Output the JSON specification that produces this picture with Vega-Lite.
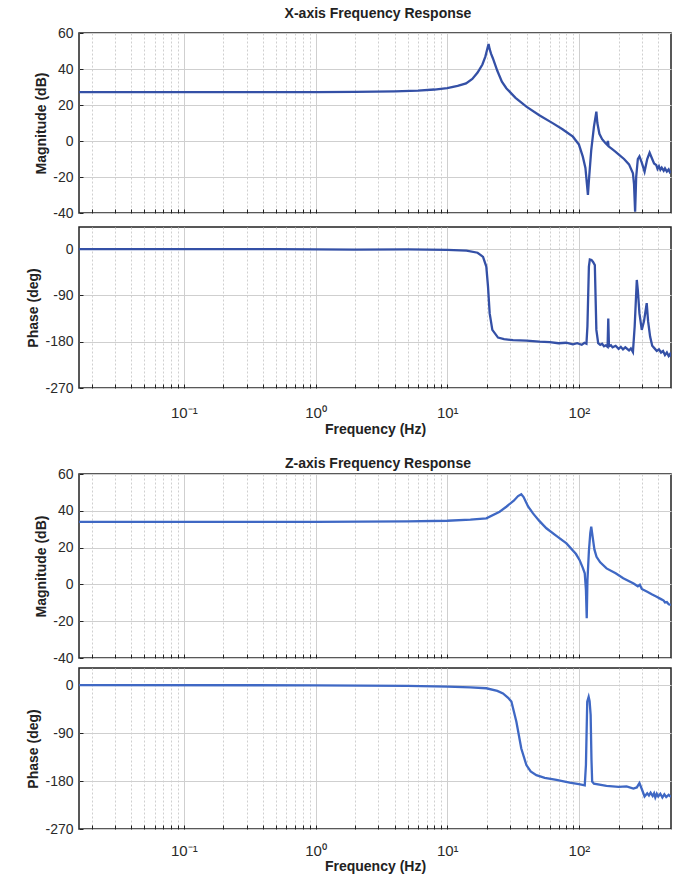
{
  "$schema": "https://vega.github.io/schema/vega-lite/v6.json",
  "padding": {"left": 26, "top": 7, "right": 1, "bottom": 0},
  "background": "white",
  "config": {
    "font": "Liberation Sans",
    "view": {"stroke": "#222222", "strokeWidth": 1.5},
    "axis": {
      "labelFont": "Liberation Sans",
      "labelFontSize": 14,
      "labelColor": "#2a2a2a",
      "titleFont": "Liberation Sans",
      "titleFontSize": 14,
      "titleFontWeight": "bold",
      "titleColor": "#222222",
      "domain": false,
      "gridColor": "#cfcfcf",
      "gridWidth": 1,
      "tickColor": "#222222",
      "tickSize": -4,
      "labelPadding": 10
    },
    "title": {"font": "Liberation Sans", "fontSize": 14, "fontWeight": "bold", "color": "#222222", "anchor": "middle", "offset": 4, "dx": 29},
    "concat": {"spacing": 20}
  },
  "datasets": {
    "xmag": [
      {"f": 0.016, "v": 27.2}, {"f": 0.05, "v": 27.2}, {"f": 0.2, "v": 27.1}, {"f": 0.5, "v": 27.2}, {"f": 1, "v": 27.1},
      {"f": 2, "v": 27.3}, {"f": 4, "v": 27.6}, {"f": 6, "v": 28.0}, {"f": 8, "v": 28.6}, {"f": 10, "v": 29.4},
      {"f": 12, "v": 30.6}, {"f": 13.9, "v": 32.0}, {"f": 15.5, "v": 34.5}, {"f": 17, "v": 38.0}, {"f": 18.5, "v": 42.5},
      {"f": 19.5, "v": 47}, {"f": 20.2, "v": 51.5}, {"f": 20.6, "v": 53.9}, {"f": 21, "v": 51}, {"f": 21.5, "v": 48.5},
      {"f": 22.2, "v": 46}, {"f": 24, "v": 39}, {"f": 26, "v": 33}, {"f": 28.1, "v": 29.3}, {"f": 33, "v": 24},
      {"f": 39.9, "v": 19.1}, {"f": 50, "v": 14.3}, {"f": 63.6, "v": 9.8}, {"f": 75, "v": 6.5}, {"f": 90, "v": 2.4},
      {"f": 100, "v": -2}, {"f": 107, "v": -8.7}, {"f": 112, "v": -15}, {"f": 115, "v": -24}, {"f": 117, "v": -30},
      {"f": 119, "v": -22}, {"f": 124, "v": -5}, {"f": 130, "v": 8}, {"f": 135.6, "v": 16.3}, {"f": 138, "v": 10},
      {"f": 143, "v": 4}, {"f": 150, "v": 1}, {"f": 158, "v": -1}, {"f": 163, "v": -2}, {"f": 166, "v": 0},
      {"f": 168, "v": -3}, {"f": 175, "v": -4}, {"f": 190, "v": -6}, {"f": 203, "v": -7.8}, {"f": 220, "v": -10},
      {"f": 240, "v": -13}, {"f": 257, "v": -18}, {"f": 262, "v": -24}, {"f": 267, "v": -39.3}, {"f": 272, "v": -20},
      {"f": 280, "v": -10}, {"f": 288, "v": -8.5}, {"f": 300, "v": -12}, {"f": 315, "v": -17}, {"f": 330, "v": -10},
      {"f": 344, "v": -6.5}, {"f": 360, "v": -10}, {"f": 372, "v": -12.5}, {"f": 386, "v": -13.3}, {"f": 395, "v": -15.5},
      {"f": 405, "v": -14}, {"f": 415, "v": -16}, {"f": 425, "v": -14.8}, {"f": 440, "v": -16.5}, {"f": 450, "v": -15.2},
      {"f": 465, "v": -17}, {"f": 480, "v": -15.8}, {"f": 490, "v": -17.3}, {"f": 500, "v": -16.5}
    ],
    "xph": [
      {"f": 0.016, "v": 0}, {"f": 0.5, "v": 0}, {"f": 1, "v": -0.5}, {"f": 2, "v": -1}, {"f": 5, "v": -0.5},
      {"f": 10, "v": -1.5}, {"f": 14, "v": -3}, {"f": 17, "v": -7}, {"f": 18.7, "v": -15}, {"f": 19.8, "v": -34},
      {"f": 20.4, "v": -73}, {"f": 21, "v": -125}, {"f": 22, "v": -157}, {"f": 24.3, "v": -172}, {"f": 27, "v": -175},
      {"f": 31.6, "v": -177}, {"f": 40, "v": -178}, {"f": 50, "v": -180}, {"f": 60, "v": -181}, {"f": 70, "v": -183},
      {"f": 80, "v": -182}, {"f": 90, "v": -185}, {"f": 97, "v": -183}, {"f": 105, "v": -186}, {"f": 110, "v": -182},
      {"f": 114, "v": -184}, {"f": 116, "v": -150}, {"f": 119, "v": -34}, {"f": 121, "v": -20},
      {"f": 124.5, "v": -21}, {"f": 128, "v": -25}, {"f": 132, "v": -31}, {"f": 135.6, "v": -157}, {"f": 140, "v": -183},
      {"f": 145, "v": -186}, {"f": 150, "v": -184}, {"f": 155, "v": -189}, {"f": 160, "v": -187}, {"f": 165, "v": -190}, {"f": 167, "v": -135}, {"f": 169, "v": -189},
      {"f": 175, "v": -187}, {"f": 180, "v": -191}, {"f": 190, "v": -188}, {"f": 200, "v": -194}, {"f": 208, "v": -190}, {"f": 216, "v": -195},
      {"f": 225, "v": -191}, {"f": 240, "v": -197}, {"f": 248, "v": -193}, {"f": 257, "v": -200},
      {"f": 265, "v": -150}, {"f": 275, "v": -60}, {"f": 280, "v": -80}, {"f": 288, "v": -125}, {"f": 300, "v": -157},
      {"f": 312, "v": -140}, {"f": 327, "v": -105}, {"f": 335, "v": -140}, {"f": 347, "v": -170}, {"f": 360, "v": -188},
      {"f": 375, "v": -193}, {"f": 390, "v": -198}, {"f": 405, "v": -195}, {"f": 420, "v": -201}, {"f": 435, "v": -198}, {"f": 450, "v": -206},
      {"f": 465, "v": -201}, {"f": 480, "v": -208}, {"f": 492, "v": -204}, {"f": 500, "v": -209}
    ],
    "zmag": [
      {"f": 0.016, "v": 34}, {"f": 1, "v": 34}, {"f": 5, "v": 34.2}, {"f": 10, "v": 34.6}, {"f": 15, "v": 35.2},
      {"f": 19.8, "v": 35.9}, {"f": 25, "v": 39.5}, {"f": 28.1, "v": 42.2}, {"f": 32, "v": 45.5}, {"f": 34.5, "v": 48},
      {"f": 36.5, "v": 49}, {"f": 38, "v": 47.5}, {"f": 41, "v": 42.5}, {"f": 44.8, "v": 38.6}, {"f": 50, "v": 34.5},
      {"f": 56.6, "v": 30.5}, {"f": 67, "v": 26.5}, {"f": 80.4, "v": 22.3}, {"f": 95, "v": 16.5}, {"f": 101, "v": 13.3},
      {"f": 107, "v": 9}, {"f": 110.7, "v": 6}, {"f": 113, "v": -3}, {"f": 114.6, "v": -18.4}, {"f": 116, "v": 2},
      {"f": 119, "v": 18}, {"f": 122, "v": 28}, {"f": 124, "v": 31.4}, {"f": 127, "v": 26}, {"f": 131, "v": 19},
      {"f": 136, "v": 15}, {"f": 145, "v": 12}, {"f": 162, "v": 8.7}, {"f": 190, "v": 6}, {"f": 217, "v": 3.3},
      {"f": 260, "v": 0.5}, {"f": 280, "v": -1}, {"f": 290, "v": -0.2}, {"f": 300, "v": -2.5}, {"f": 330, "v": -4},
      {"f": 360, "v": -5.5}, {"f": 389, "v": -6.7}, {"f": 420, "v": -8}, {"f": 440, "v": -8.8}, {"f": 450, "v": -9.8},
      {"f": 465, "v": -9.6}, {"f": 480, "v": -10.8}, {"f": 500, "v": -11.2}
    ],
    "zph": [
      {"f": 0.016, "v": 0}, {"f": 1, "v": -0.5}, {"f": 5, "v": -1.5}, {"f": 10, "v": -3}, {"f": 15, "v": -4.5},
      {"f": 19.8, "v": -6}, {"f": 24, "v": -11}, {"f": 26.5, "v": -15.6}, {"f": 29, "v": -24}, {"f": 30.7, "v": -31},
      {"f": 33.5, "v": -69}, {"f": 36.5, "v": -119}, {"f": 39.9, "v": -150}, {"f": 43, "v": -162}, {"f": 47.5, "v": -169},
      {"f": 55, "v": -174}, {"f": 67.5, "v": -178}, {"f": 85, "v": -183}, {"f": 100, "v": -186}, {"f": 110.7, "v": -188},
      {"f": 113, "v": -150}, {"f": 115.6, "v": -31}, {"f": 118.5, "v": -22}, {"f": 120.5, "v": -30}, {"f": 122.7, "v": -56},
      {"f": 124.5, "v": -140}, {"f": 126, "v": -181}, {"f": 130, "v": -185}, {"f": 162, "v": -189}, {"f": 200, "v": -191},
      {"f": 230, "v": -190}, {"f": 259, "v": -194}, {"f": 275, "v": -192}, {"f": 288, "v": -184}, {"f": 300, "v": -195}, {"f": 315, "v": -209},
      {"f": 330, "v": -203}, {"f": 340, "v": -207}, {"f": 350, "v": -202}, {"f": 363, "v": -208}, {"f": 372, "v": -203}, {"f": 380, "v": -211}, {"f": 390, "v": -204},
      {"f": 400, "v": -209}, {"f": 415, "v": -204}, {"f": 430, "v": -211}, {"f": 445, "v": -205}, {"f": 460, "v": -210}, {"f": 480, "v": -206}, {"f": 500, "v": -210}
    ]
  },
  "vconcat": [
    {
      "title": "X-axis Frequency Response",
      "spacing": 5,
      "vconcat": [
        {
          "width": 592, "height": 180,
          "data": {"name": "xmag"},
          "mark": {"type": "line", "color": "#3450a6", "strokeWidth": 2.3, "clip": true},
          "encoding": {
            "x": {"field": "f", "type": "quantitative", "scale": {"type": "log", "domain": [0.016, 500], "nice": false},
              "axis": {"values": [0.02,0.03,0.04,0.05,0.06,0.07,0.08,0.09,0.1,0.2,0.3,0.4,0.5,0.6,0.7,0.8,0.9,1,2,3,4,5,6,7,8,9,10,20,30,40,50,60,70,80,90,100,200,300,400],
                "labels": false, "title": null,
                "gridDash": {"condition": {"test": "abs(log(datum.value)/LN10 - round(log(datum.value)/LN10)) < 0.001", "value": []}, "value": [2, 2]}}},
            "y": {"field": "v", "type": "quantitative", "scale": {"domain": [-40, 60], "nice": false},
              "axis": {"values": [-40,-20,0,20,40,60], "title": "Magnitude (dB)", "labelExpr": "replace(datum.label, '−', '-')"}}
          }
        },
        {
          "width": 592, "height": 161,
          "data": {"name": "xph"},
          "mark": {"type": "line", "color": "#3450a6", "strokeWidth": 2.3, "clip": true},
          "encoding": {
            "x": {"field": "f", "type": "quantitative", "scale": {"type": "log", "domain": [0.016, 500], "nice": false},
              "axis": {"values": [0.02,0.03,0.04,0.05,0.06,0.07,0.08,0.09,0.1,0.2,0.3,0.4,0.5,0.6,0.7,0.8,0.9,1,2,3,4,5,6,7,8,9,10,20,30,40,50,60,70,80,90,100,200,300,400],
                "labelExpr": "datum.value == 0.1 ? '10⁻¹' : datum.value == 1 ? '10⁰' : datum.value == 10 ? '10¹' : datum.value == 100 ? '10²' : ''",
                "labelOverlap": false, "labelFontSize": 15, "labelPadding": 21, "titlePadding": 2,
                "title": "Frequency  (Hz)",
                "gridDash": {"condition": {"test": "abs(log(datum.value)/LN10 - round(log(datum.value)/LN10)) < 0.001", "value": []}, "value": [2, 2]}}},
            "y": {"field": "v", "type": "quantitative", "scale": {"domain": [-270, 43], "nice": false},
              "axis": {"values": [-270,-180,-90,0], "title": "Phase (deg)", "labelExpr": "replace(datum.label, '−', '-')"}}
          }
        }
      ]
    },
    {
      "title": {"text": "Z-axis Frequency Response", "offset": -5},
      "spacing": 1,
      "vconcat": [
        {
          "width": 592, "height": 184,
          "data": {"name": "zmag"},
          "mark": {"type": "line", "color": "#3f68c4", "strokeWidth": 2.3, "clip": true},
          "encoding": {
            "x": {"field": "f", "type": "quantitative", "scale": {"type": "log", "domain": [0.016, 500], "nice": false},
              "axis": {"values": [0.02,0.03,0.04,0.05,0.06,0.07,0.08,0.09,0.1,0.2,0.3,0.4,0.5,0.6,0.7,0.8,0.9,1,2,3,4,5,6,7,8,9,10,20,30,40,50,60,70,80,90,100,200,300,400],
                "labels": false, "title": null,
                "gridDash": {"condition": {"test": "abs(log(datum.value)/LN10 - round(log(datum.value)/LN10)) < 0.001", "value": []}, "value": [2, 2]}}},
            "y": {"field": "v", "type": "quantitative", "scale": {"domain": [-40, 60], "nice": false},
              "axis": {"values": [-40,-20,0,20,40,60], "title": "Magnitude (dB)", "labelExpr": "replace(datum.label, '−', '-')"}}
          }
        },
        {
          "width": 592, "height": 161,
          "data": {"name": "zph"},
          "mark": {"type": "line", "color": "#3f68c4", "strokeWidth": 2.3, "clip": true},
          "encoding": {
            "x": {"field": "f", "type": "quantitative", "scale": {"type": "log", "domain": [0.016, 500], "nice": false},
              "axis": {"values": [0.02,0.03,0.04,0.05,0.06,0.07,0.08,0.09,0.1,0.2,0.3,0.4,0.5,0.6,0.7,0.8,0.9,1,2,3,4,5,6,7,8,9,10,20,30,40,50,60,70,80,90,100,200,300,400],
                "labelExpr": "datum.value == 0.1 ? '10⁻¹' : datum.value == 1 ? '10⁰' : datum.value == 10 ? '10¹' : datum.value == 100 ? '10²' : ''",
                "labelOverlap": false, "labelFontSize": 15, "labelPadding": 18, "titlePadding": 1,
                "title": "Frequency  (Hz)",
                "gridDash": {"condition": {"test": "abs(log(datum.value)/LN10 - round(log(datum.value)/LN10)) < 0.001", "value": []}, "value": [2, 2]}}},
            "y": {"field": "v", "type": "quantitative", "scale": {"domain": [-270, 32], "nice": false},
              "axis": {"values": [-270,-180,-90,0], "title": "Phase (deg)", "labelExpr": "replace(datum.label, '−', '-')"}}
          }
        }
      ]
    }
  ]
}
